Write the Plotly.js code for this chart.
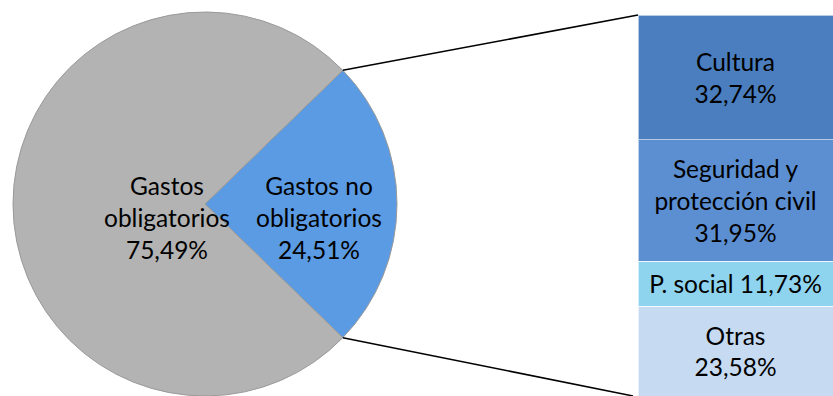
<!DOCTYPE html>
<html><head><meta charset="utf-8">
<script src="https://cdn.plot.ly/plotly-3.0.1.min.js"></script>
<style>html,body{margin:0;padding:0;background:#fff;}#chart{width:833px;height:396px;}</style>
</head><body><div id="chart"></div>
<script>
// Pie data
const pieLabels = ["Gastos no<br>obligatorios", "Gastos<br>obligatorios"];
const pieValues = [24.51, 75.49];
const pieText = ["24,51%", "75,49%"];
const pieColors = ["#5B9BE3", "#B3B3B3"];

// Bar breakdown (bottom to top)
const barLabels = ["Otras", "P. social", "Seguridad y<br>protección civil", "Cultura"];
const barValues = [23.58, 11.73, 31.95, 32.74];
const barText = ["23,58%", "11,73%", "31,95%", "32,74%"];
const barSep = ["<br>", " ", "<br>", "<br>"];
const barColors = ["#C6DAF2", "#8FD4EF", "#5C8FD2", "#4A7EBE"];

const W = 833, H = 396;
const FONT = "Lato, 'Noto Sans', sans-serif";
const FS = 24.5;

// pie geometry (paper domain)
const pieDomX = [0.0156, 0.4766];
const pieDomY = [0.0, 0.9697];
const cx = (pieDomX[0] + pieDomX[1]) / 2 * W;
const cyFromBottom = (pieDomY[0] + pieDomY[1]) / 2 * H;
const R = Math.min((pieDomX[1]-pieDomX[0]) * W, (pieDomY[1]-pieDomY[0]) * H) / 2;

const half = 360 * pieValues[0] / 100 / 2;  // half-angle of the broken-out slice
const rotation = 90 - half;

const traces = [];
traces.push({
  type: "pie",
  values: pieValues,
  labels: pieLabels,
  sort: false,
  direction: "clockwise",
  rotation: rotation,
  textinfo: "none",
  hoverinfo: "label+percent",
  marker: {colors: pieColors, line: {color: "#9a9a9a", width: 1}},
  domain: {x: pieDomX, y: pieDomY},
  showlegend: false
});

const barDomX = [638 / W, 1.0];
const barDomY = [0, 381 / H];
for (let i = 0; i < barValues.length; i++) {
  traces.push({
    type: "bar",
    x: ["b"],
    y: [barValues[i]],
    name: barLabels[i],
    text: [barLabels[i] + barSep[i] + barText[i]],
    textposition: "inside",
    insidetextanchor: "middle",
    constraintext: "none",
    textangle: 0,
    textfont: {family: FONT, size: FS, color: "#000"},
    marker: {color: barColors[i], line: {color: "rgba(255,255,255,0.6)", width: 1}},
    xaxis: "x", yaxis: "y",
    showlegend: false,
    hoverinfo: "name+y"
  });
}

const total = barValues.reduce((a, b) => a + b, 0);

// connector lines (derived from pie slice angle and bar extent)
const rad = half * Math.PI / 180;
const px = cx + R * Math.cos(rad);
const pyTop = cyFromBottom + R * Math.sin(rad);
const pyBot = cyFromBottom - R * Math.sin(rad);
const bx = barDomX[0] * W;
const shapes = [
  {type: "line", xref: "paper", yref: "paper", x0: px / W, y0: pyTop / H, x1: bx / W, y1: barDomY[1], line: {color: "#000", width: 1.5}},
  {type: "line", xref: "paper", yref: "paper", x0: px / W, y0: pyBot / H, x1: (bx - 5) / W, y1: barDomY[0], line: {color: "#000", width: 1.5}}
];

const annotations = [
  {xref: "paper", yref: "paper", x: 102 / W, y: (H - 217) / H, text: pieLabels[1] + "<br>" + pieText[1], showarrow: false, font: {family: FONT, size: FS, color: "#000"}, align: "center"},
  {xref: "paper", yref: "paper", x: 319 / W, y: (H - 217) / H, text: pieLabels[0] + "<br>" + pieText[0], showarrow: false, font: {family: FONT, size: FS, color: "#000"}, align: "center"}
];

const layout = {
  width: W, height: H,
  margin: {l: 0, r: 0, t: 0, b: 0, pad: 0},
  paper_bgcolor: "#fff", plot_bgcolor: "rgba(0,0,0,0)",
  barmode: "stack", bargap: 0,
  xaxis: {domain: barDomX, visible: false, fixedrange: true},
  yaxis: {domain: barDomY, visible: false, range: [0, total], fixedrange: true},
  shapes: shapes,
  annotations: annotations,
  font: {family: FONT, size: FS, color: "#000"},
  showlegend: false
};

Plotly.newPlot("chart", traces, layout, {displayModeBar: false, staticPlot: true});
</script>
</body></html>
